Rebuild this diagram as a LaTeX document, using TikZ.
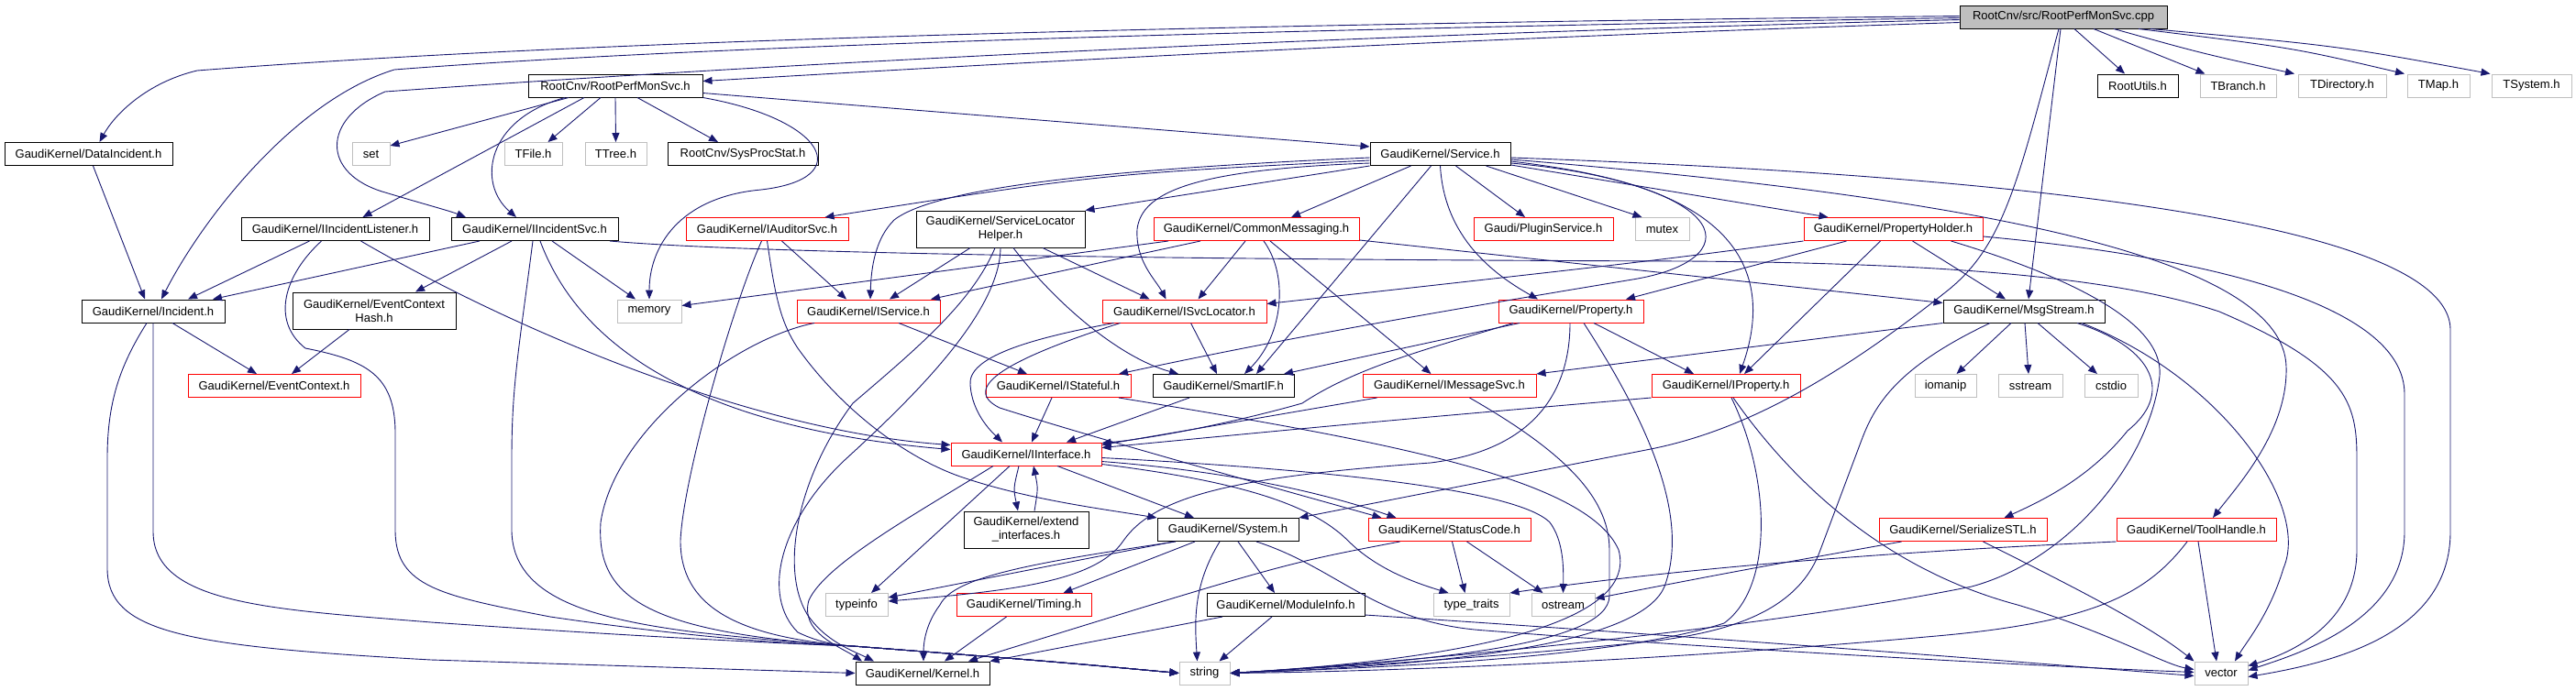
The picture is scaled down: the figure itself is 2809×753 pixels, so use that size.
\documentclass[tikz,border=0pt]{standalone}
\usepackage{fontspec}
\setmainfont{Liberation Sans}
\usetikzlibrary{arrows.meta}
\definecolor{edgec}{HTML}{191970}
\definecolor{grayb}{HTML}{BFBFBF}
\definecolor{redb}{HTML}{FF0000}
\begin{document}
\begin{tikzpicture}[x=1pt,y=-1pt,
  nb/.style={draw=black, line width=1pt, inner sep=0pt, minimum height=25pt, align=center,
             font=\fontsize{13pt}{15pt}\selectfont, fill=white},
  nr/.style={nb, draw=redb},
  ng/.style={nb, draw=grayb},
  nroot/.style={nb, fill=grayb},
  two/.style={minimum height=40pt},
  e/.style={-{Triangle[length=10pt,width=8pt]}, draw=edgec, line width=0.9pt}]
\useasboundingbox (0,0) rectangle (2809,753);
% ---------------- nodes ----------------
\node[nroot, minimum width=226pt] (root) at (2250,18.5) {RootCnv/src/RootPerfMonSvc.cpp};
\node[nb, minimum width=190pt] (rpms) at (671,93.5) {RootCnv/RootPerfMonSvc.h};
\node[nb, minimum width=88pt] (rutils) at (2331,93.5) {RootUtils.h};
\node[ng, minimum width=83pt] (tbranch) at (2440.5,93.5) {TBranch.h};
\node[ng, minimum width=96pt] (tdir) at (2554,93.5) {TDirectory.h};
\node[ng, minimum width=68pt] (tmap) at (2659,93.5) {TMap.h};
\node[ng, minimum width=87pt] (tsys) at (2760.5,93.5) {TSystem.h};
\node[nb, minimum width=183pt] (dataInc) at (96.5,168) {GaudiKernel/DataIncident.h};
\node[ng, minimum width=41pt] (set) at (404.5,168) {set};
\node[ng, minimum width=63pt] (tfile) at (581.5,168) {TFile.h};
\node[ng, minimum width=67pt] (ttree) at (671.5,168) {TTree.h};
\node[nb, minimum width=164pt] (sysproc) at (810,168) {RootCnv/SysProcStat.h};
\node[nb, minimum width=153pt] (service) at (1570.5,168) {GaudiKernel/Service.h};
\node[nb, minimum width=205pt] (ilist) at (365.5,250) {GaudiKernel/IIncidentListener.h};
\node[nb, minimum width=182pt] (incsvc) at (583,250) {GaudiKernel/IIncidentSvc.h};
\node[nr, minimum width=177pt] (audsvc) at (836.5,250) {GaudiKernel/IAuditorSvc.h};
\node[nb, two, minimum width=184pt] (slh) at (1091,250) {GaudiKernel/ServiceLocator\\Helper.h};
\node[nr, minimum width=224pt] (cmsg) at (1370,250) {GaudiKernel/CommonMessaging.h};
\node[nr, minimum width=152pt] (plugin) at (1683,250) {Gaudi/PluginService.h};
\node[ng, minimum width=59pt] (mutex) at (1812.5,250) {mutex};
\node[nr, minimum width=195pt] (pholder) at (2064.5,250) {GaudiKernel/PropertyHolder.h};
\node[nb, minimum width=156pt] (incident) at (167,339.5) {GaudiKernel/Incident.h};
\node[nb, two, minimum width=178pt] (ech) at (408,339) {GaudiKernel/EventContext\\Hash.h};
\node[ng, minimum width=70pt] (memory) at (708,339.5) {memory};
\node[nr, minimum width=156pt] (isvc) at (947,339.5) {GaudiKernel/IService.h};
\node[nr, minimum width=179pt] (isvcloc) at (1291.5,339.5) {GaudiKernel/ISvcLocator.h};
\node[nr, minimum width=158pt] (property) at (1713,339.5) {GaudiKernel/Property.h};
\node[nb, minimum width=176pt] (msgstream) at (2207,339.5) {GaudiKernel/MsgStream.h};
\node[nr, minimum width=188pt] (evctx) at (299,421) {GaudiKernel/EventContext.h};
\node[nr, minimum width=158pt] (istateful) at (1154,421) {GaudiKernel/IStateful.h};
\node[nb, minimum width=154pt] (smartif) at (1334,421) {GaudiKernel/SmartIF.h};
\node[nr, minimum width=189pt] (imsgsvc) at (1580.5,421) {GaudiKernel/IMessageSvc.h};
\node[nr, minimum width=162pt] (iprop) at (1882,421) {GaudiKernel/IProperty.h};
\node[ng, minimum width=67pt] (iomanip) at (2121.5,421) {iomanip};
\node[ng, minimum width=70pt] (sstream) at (2214,421) {sstream};
\node[ng, minimum width=58pt] (cstdio) at (2302,421) {cstdio};
\node[nr, minimum width=164pt] (iinterface) at (1119,495.5) {GaudiKernel/IInterface.h};
\node[nb, two, minimum width=136pt] (extif) at (1119,578) {GaudiKernel/extend\\\_interfaces.h};
\node[nb, minimum width=154pt] (system) at (1339,578) {GaudiKernel/System.h};
\node[nr, minimum width=177pt] (statuscode) at (1580.5,578) {GaudiKernel/StatusCode.h};
\node[nr, minimum width=183pt] (serial) at (2140.5,578) {GaudiKernel/SerializeSTL.h};
\node[nr, minimum width=174pt] (toolhandle) at (2395,578) {GaudiKernel/ToolHandle.h};
\node[ng, minimum width=68pt] (typeinfo) at (934,660) {typeinfo};
\node[nr, minimum width=147pt] (timing) at (1116.5,660) {GaudiKernel/Timing.h};
\node[nb, minimum width=172pt] (modinfo) at (1402,660) {GaudiKernel/ModuleInfo.h};
\node[ng, minimum width=83pt] (typetraits) at (1604.5,660) {type\_traits};
\node[ng, minimum width=69pt] (ostream) at (1704.5,660) {ostream};
\node[nb, minimum width=146pt] (kernel) at (1006,734.5) {GaudiKernel/Kernel.h};
\node[ng, minimum width=55pt] (string) at (1313.5,734.5) {string};
\node[ng, minimum width=58pt] (vector) at (2422,734.5) {vector};
% ---------------- edges: root ----------------
\draw[e] ([yshift=-6pt]root.west) .. controls (1500,45) and (1000,75) .. ([yshift=5pt]rpms.east);
\draw[e] ([yshift=1pt]root.west) .. controls (1000,30) and (500,55) .. (215,77) .. controls (160,90) and (125,125) .. ([xshift=12pt]dataInc.north);
\draw[e] ([yshift=-1pt]root.west) .. controls (1200,35) and (700,55) .. (430,76) .. controls (320,110) and (220,240) .. ([xshift=9pt]incident.north);
\draw[e] ([yshift=-3pt]root.west) .. controls (1300,42) and (700,80) .. (420,100) .. controls (350,130) and (350,190) .. (420,210) .. controls (460,222) and (490,230) .. ([xshift=-75pt]incsvc.north);
\draw[e] ([xshift=12pt]root.south) -- ([xshift=-14pt]rutils.north);
\draw[e] ([xshift=33pt]root.south) -- ([xshift=-36pt]tbranch.north);
\draw[e] ([xshift=55pt]root.south) .. controls (2400,58) .. ([xshift=-52pt]tdir.north);
\draw[e] ([xshift=82pt]root.south) .. controls (2500,52) .. ([xshift=-37pt]tmap.north);
\draw[e] ([xshift=95pt]root.south) .. controls (2550,50) .. ([xshift=-45pt]tsys.north);
\draw[e] ([xshift=-3pt]root.south) -- ([xshift=5pt]msgstream.north);
\draw[e] ([xshift=-5pt]root.south) .. controls (2200,200) and (2185,270) .. (2120,320) .. controls (2000,415) and (1900,470) .. (1800,490) -- (system.north east);
% ---------------- rpms ----------------
\draw[e] ([xshift=-51pt]rpms.south) -- ([yshift=9pt]set.east);
\draw[e] ([xshift=-34pt]rpms.south) -- ([xshift=30pt]ilist.north);
\draw[e] ([xshift=-55pt]rpms.south) .. controls (530,130) and (520,200) .. ([xshift=-20pt]incsvc.north);
\draw[e] ([xshift=-16pt]rpms.south) -- ([xshift=16pt]tfile.north);
\draw[e] (rpms.south) -- (ttree.north);
\draw[e] ([xshift=24pt]rpms.south) -- ([xshift=-27pt]sysproc.north);
\draw[e] (rpms.south east) .. controls (900,130) and (935,195) .. (830,207) .. controls (740,215) and (708,270) .. (memory.north);
\draw[e] ([yshift=-8pt]rpms.east) -- ([yshift=8pt]service.west);
% ---------------- left part ----------------
\draw[e] ([xshift=5pt]dataInc.south) -- ([xshift=-9pt]incident.north);
\draw[e] ([xshift=-28pt]ilist.south) -- ([xshift=38pt]incident.north);
\draw[e] ([xshift=-15pt]ilist.south) .. controls (310,300) and (295,350) .. (333,380) .. controls (400,393) and (430,410) .. (431,470) -- (431,580) .. controls (432,640) and (480,650) .. (600,673) .. controls (750,695) and (850,702) .. (930,705) .. controls (1150,722) .. (string.west);
\draw[e] ([xshift=28pt]ilist.south) .. controls (560,360) and (820,470) .. ([yshift=10pt]iinterface.west);
\draw[e] ([xshift=-60pt]incsvc.south) -- ([xshift=65pt]incident.north);
\draw[e] ([xshift=-25pt]incsvc.south) -- ([xshift=45pt]ech.north);
\draw[e] ([xshift=19pt]incsvc.south) -- ([xshift=-15pt]memory.north);
\draw[e] ([xshift=-2pt]incsvc.south) .. controls (566,380) and (558,420) .. (558,500) -- (558,580) .. controls (560,650) and (640,675) .. (760,690) .. controls (850,700) and (900,703) .. (930,705) .. controls (1150,722) .. (string.west);
\draw[e] ([xshift=6pt]incsvc.south) .. controls (640,400) and (800,470) .. ([yshift=5pt]iinterface.west);
\draw[e] ([xshift=82pt]incsvc.south) .. controls (800,275) and (1200,283) .. (1840,285) .. controls (2100,287) and (2300,300) .. (2420,340) .. controls (2560,400) and (2570,440) .. (2570,500) -- (2570,600) .. controls (2570,680) and (2500,712) .. ([yshift=8pt]vector.east);
\draw[e] ([xshift=-7pt]incident.south) .. controls (130,400) and (117,440) .. (117,500) -- (117,620) .. controls (117,690) and (200,705) .. (470,720) -- (kernel.west);
\draw[e] (incident.south) -- (167,580) .. controls (167,660) and (300,665) .. (470,679) .. controls (700,695) and (850,702) .. (930,705) .. controls (1150,722) .. (string.west);
\draw[e] ([xshift=21pt]incident.south) -- ([xshift=-19pt]evctx.north);
\draw[e] ([xshift=-27pt]ech.south) -- ([xshift=19pt]evctx.north);
% ---------------- IAuditorSvc ----------------
\draw[e] ([xshift=16pt]audsvc.south) -- ([xshift=-24pt]isvc.north);
\draw[e] ([xshift=-6pt]audsvc.south) .. controls (800,330) and (745,520) .. (742,590) .. controls (742,660) and (800,695) .. (930,705) .. controls (1150,722) .. (string.west);
\draw[e] (audsvc.south) .. controls (845,320) and (850,350) .. (870,380) .. controls (920,450) and (990,500) .. (1047,520) .. controls (1120,545) and (1200,555) .. (system.north west);
% ---------------- ServiceLocatorHelper ----------------
\draw[e] ([xshift=-33pt]slh.south) -- ([xshift=23pt]isvc.north);
\draw[e] ([xshift=-6pt]slh.south) .. controls (1060,330) and (1000,380) .. (930,440) .. controls (870,520) and (850,620) .. (880,670) .. controls (900,700) and (930,710) .. ([xshift=-53pt]kernel.north);
\draw[e] (slh.south) .. controls (1090,340) and (1000,430) .. (920,503) .. controls (850,570) and (830,650) .. (870,690) .. controls (895,702) and (915,704) .. (930,705) .. controls (1150,722) .. (string.west);
\draw[e] ([xshift=14pt]slh.south) .. controls (1150,330) and (1220,390) .. ([xshift=-49pt]smartif.north);
\draw[e] ([xshift=46pt]slh.south) -- ([xshift=-38pt]isvcloc.north);
% ---------------- CommonMessaging ----------------
\draw[e] ([xshift=-96pt]cmsg.south) -- ([yshift=6pt]memory.east);
\draw[e] ([xshift=-61pt]cmsg.south) -- ([xshift=68pt]isvc.north);
\draw[e] ([xshift=-12pt]cmsg.south) -- ([xshift=15pt]isvcloc.north);
\draw[e] ([xshift=8pt]cmsg.south) .. controls (1405,300) and (1400,365) .. ([xshift=23pt]smartif.north);
\draw[e] ([xshift=15pt]cmsg.south) -- ([xshift=-20pt]imsgsvc.north);
\draw[e] ([yshift=-12pt]cmsg.east) -- ([yshift=9pt]msgstream.west);
% ---------------- IService / ISvcLocator ----------------
\draw[e] ([xshift=33pt]isvc.south) -- ([xshift=-34pt]istateful.north);
\draw[e] ([xshift=-59pt]isvc.south) .. controls (800,370) and (670,470) .. (655,570) .. controls (650,650) and (700,690) .. (930,705) .. controls (1150,722) .. (string.west);
\draw[e] ([xshift=-77pt]isvcloc.south) .. controls (1120,370) and (1055,390) .. (1058,420) .. controls (1060,450) and (1080,470) .. ([xshift=-26pt]iinterface.north);
\draw[e] ([xshift=-70pt]isvcloc.south) .. controls (1120,385) and (1040,420) .. (1090,445) .. controls (1200,480) and (1400,535) .. ([xshift=-74pt]statuscode.north);
\draw[e] ([xshift=7pt]isvcloc.south) -- ([xshift=-7pt]smartif.north);
% ---------------- IStateful / SmartIF / IMessageSvc / IProperty ----------------
\draw[e] ([xshift=-7pt]istateful.south) -- ([xshift=6pt]iinterface.north);
\draw[e] ([xshift=66pt]istateful.south) .. controls (1500,480) and (1730,520) .. (1765,600) .. controls (1790,690) and (1550,722) .. (string.east);
\draw[e] ([xshift=-37pt]smartif.south) -- ([xshift=44pt]iinterface.north);
\draw[e] ([xshift=-79pt]imsgsvc.south) -- ([yshift=10pt]iinterface.east);
\draw[e] ([xshift=22pt]imsgsvc.south) .. controls (1700,490) and (1755,540) .. (1755,600) -- (1755,650) .. controls (1755,705) and (1550,722) .. (string.east);
\draw[e] (iprop.south west) .. controls (1500,460) .. ([yshift=7pt]iinterface.east);
\draw[e] ([xshift=6pt]iprop.south) .. controls (1930,520) and (1935,640) .. (1880,680) .. controls (1750,722) and (1450,730) .. (string.east);
\draw[e] ([xshift=8pt]iprop.south) .. controls (1950,520) and (2050,620) .. (2200,660) .. controls (2300,690) and (2360,725) .. ([yshift=4pt]vector.west);
% ---------------- Property ----------------
\draw[e] ([xshift=25pt]property.south) -- ([xshift=-35pt]iprop.north);
\draw[e] ([xshift=-56pt]property.south) -- ([xshift=66pt]smartif.north);
\draw[e] ([xshift=-63pt]property.south) .. controls (1560,380) and (1480,400) .. (1420,440) .. controls (1350,460) and (1260,478) .. ([yshift=12pt]iinterface.east);
\draw[e] ([xshift=-1pt]property.south) .. controls (1712,420) and (1680,490) .. (1560,505) .. controls (1350,520) and (1260,540) .. (1225,590) .. controls (1195,635) and (1100,645) .. ([yshift=4pt]typeinfo.east);
\draw[e] ([xshift=14pt]property.south) .. controls (1790,450) and (1845,560) .. (1815,640) .. controls (1790,700) and (1600,725) .. (string.east);
% ---------------- MsgStream ----------------
\draw[e] (msgstream.south west) -- (imsgsvc.north east);
\draw[e] ([xshift=-37pt]msgstream.south) .. controls (2070,400) and (2045,440) .. (2030,480) -- (1985,600) .. controls (1960,670) and (1880,690) .. (1800,700) .. controls (1600,720) and (1450,728) .. (string.east);
\draw[e] ([xshift=-14pt]msgstream.south) -- ([xshift=12pt]iomanip.north);
\draw[e] ([xshift=1pt]msgstream.south) -- ([xshift=-2pt]sstream.north);
\draw[e] ([xshift=15pt]msgstream.south) -- ([xshift=-15pt]cstdio.north);
\draw[e] ([xshift=58pt]msgstream.south) .. controls (2350,380) and (2370,430) .. (2320,470) .. controls (2280,520) and (2230,545) .. ([xshift=45pt]serial.north);
\draw[e] ([xshift=63pt]msgstream.south) .. controls (2420,410) and (2520,550) .. (2490,620) .. controls (2475,670) and (2450,700) .. ([xshift=15pt]vector.north);
% ---------------- PropertyHolder ----------------
\draw[e] (pholder.south west) .. controls (1800,285) .. ([yshift=8pt]isvcloc.east);
\draw[e] ([xshift=-51pt]pholder.south) -- ([xshift=60pt]property.north);
\draw[e] ([xshift=-14pt]pholder.south) -- ([xshift=20pt]iprop.north);
\draw[e] ([xshift=21pt]pholder.south) -- ([xshift=-20pt]msgstream.north);
\draw[e] ([yshift=-8pt]pholder.east) .. controls (2400,280) and (2622,330) .. (2622,430) -- (2622,580) .. controls (2622,680) and (2500,715) .. ([yshift=3pt]vector.east);
\draw[e] ([xshift=63pt]pholder.south) .. controls (2250,300) and (2360,350) .. (2355,410) .. controls (2345,500) and (2260,610) .. (2150,640) .. controls (1900,690) and (1500,725) .. (string.east);
% ---------------- Service ----------------
\draw[e] ([yshift=-7pt]service.west) .. controls (1200,190) .. ([xshift=63pt]audsvc.north);
\draw[e] ([yshift=-4pt]service.west) .. controls (1200,185) and (1020,205) .. (975,240) .. controls (955,260) and (950,290) .. ([xshift=2pt]isvc.north);
\draw[e] ([yshift=-10pt]service.west) .. controls (1300,185) and (1245,210) .. (1240,250) .. controls (1238,285) and (1260,305) .. ([xshift=-20pt]isvcloc.north);
\draw[e] (service.south west) -- (slh.north east);
\draw[e] ([xshift=-32pt]service.south) -- ([xshift=38pt]cmsg.north);
\draw[e] ([xshift=-10pt]service.south) -- ([xshift=36pt]smartif.north);
\draw[e] (service.south) .. controls (1575,260) and (1630,300) .. ([xshift=-36pt]property.north);
\draw[e] ([xshift=17pt]service.south) -- ([xshift=-20pt]plugin.north);
\draw[e] ([xshift=50pt]service.south) -- ([xshift=-22pt]mutex.north);
\draw[e] ([yshift=-12pt]service.east) -- ([xshift=-71pt]pholder.north);
\draw[e] ([yshift=-10pt]service.east) .. controls (1900,200) and (1935,300) .. ([xshift=15pt]iprop.north);
\draw[e] ([yshift=-8pt]service.east) .. controls (1900,205) and (1905,285) .. (1780,305) .. controls (1600,335) and (1420,365) .. ([xshift=66pt]istateful.north);
\draw[e] ([yshift=-4pt]service.east) .. controls (2000,185) and (2672,220) .. (2672,360) -- (2672,580) .. controls (2672,690) and (2550,722) .. ([yshift=-4pt]vector.east);
\draw[e] ([yshift=-6pt]service.east) .. controls (2150,215) and (2490,280) .. (2493,400) .. controls (2495,470) and (2440,530) .. ([xshift=18pt]toolhandle.north);
% ---------------- IInterface ----------------
\draw[e] ([xshift=-8pt]iinterface.south) .. controls (1105,533) .. ([xshift=-9pt]extif.north);
\draw[e] ([xshift=9pt]extif.north) .. controls (1132,533) .. ([xshift=8pt]iinterface.south);
\draw[e] ([xshift=-36pt]iinterface.south) .. controls (1000,560) and (900,615) .. (882,655) .. controls (872,690) and (915,705) .. ([xshift=-66pt]kernel.north);
\draw[e] ([xshift=-18pt]iinterface.south) -- ([xshift=16pt]typeinfo.north);
\draw[e] ([xshift=34pt]iinterface.south) -- ([xshift=-37pt]system.north);
\draw[e] ([yshift=-4pt]iinterface.east) .. controls (1400,510) and (1650,530) .. (1690,570) .. controls (1705,590) and (1705,620) .. (ostream.north);
\draw[e] ([yshift=-8pt]iinterface.east) .. controls (1350,515) and (1450,540) .. ([xshift=-58pt]statuscode.north);
\draw[e] ([yshift=-11pt]iinterface.east) .. controls (1350,525) and (1430,550) .. (1470,590) .. controls (1500,620) and (1540,635) .. ([xshift=-25pt]typetraits.north);
% ---------------- System ----------------
\draw[e] ([xshift=-59pt]system.south) -- ([yshift=8pt]typeinfo.east);
\draw[e] ([xshift=-57pt]system.south) .. controls (1120,615) and (1040,630) .. (1025,660) .. controls (1010,680) and (1007,700) .. ([xshift=1pt]kernel.north);
\draw[e] ([xshift=-36pt]system.south) -- ([xshift=43pt]timing.north);
\draw[e] ([xshift=-9pt]system.south) .. controls (1300,640) and (1303,680) .. ([xshift=-8pt]string.north);
\draw[e] ([xshift=11pt]system.south) -- ([xshift=-12pt]modinfo.north);
\draw[e] ([xshift=31pt]system.south) .. controls (1460,620) and (1500,680) .. (1620,688) .. controls (1900,710) and (2250,728) .. ([yshift=1pt]vector.west);
% ---------------- ModuleInfo / Timing / StatusCode ----------------
\draw[e] ([xshift=-69pt]modinfo.south) -- (kernel.north east);
\draw[e] ([xshift=-15pt]modinfo.south) -- ([xshift=16pt]string.north);
\draw[e] ([yshift=-11pt]modinfo.east) .. controls (1900,698) and (2200,722) .. ([yshift=-3pt]vector.west);
\draw[e] ([xshift=-19pt]timing.south) -- ([xshift=24pt]kernel.north);
\draw[e] ([xshift=3pt]statuscode.south) -- ([xshift=-7pt]typetraits.north);
\draw[e] ([xshift=19pt]statuscode.south) -- ([xshift=-22pt]ostream.north);
\draw[e] ([xshift=-54pt]statuscode.south) .. controls (1400,615) .. ([xshift=50pt]kernel.north);
% ---------------- ToolHandle / SerializeSTL ----------------
\draw[e] (toolhandle.south west) .. controls (2000,605) and (1800,625) .. (typetraits.north east);
\draw[e] ([xshift=-10pt]toolhandle.south) .. controls (2340,650) and (2280,680) .. (2100,695) .. controls (1800,722) and (1500,733) .. (string.east);
\draw[e] ([xshift=2pt]toolhandle.south) -- ([xshift=-5pt]vector.north);
\draw[e] ([xshift=-67pt]serial.south) .. controls (1900,622) .. ([yshift=7pt]ostream.east);
\draw[e] ([xshift=22pt]serial.south) .. controls (2260,640) and (2340,680) .. (vector.north west);
\end{tikzpicture}
\end{document}
